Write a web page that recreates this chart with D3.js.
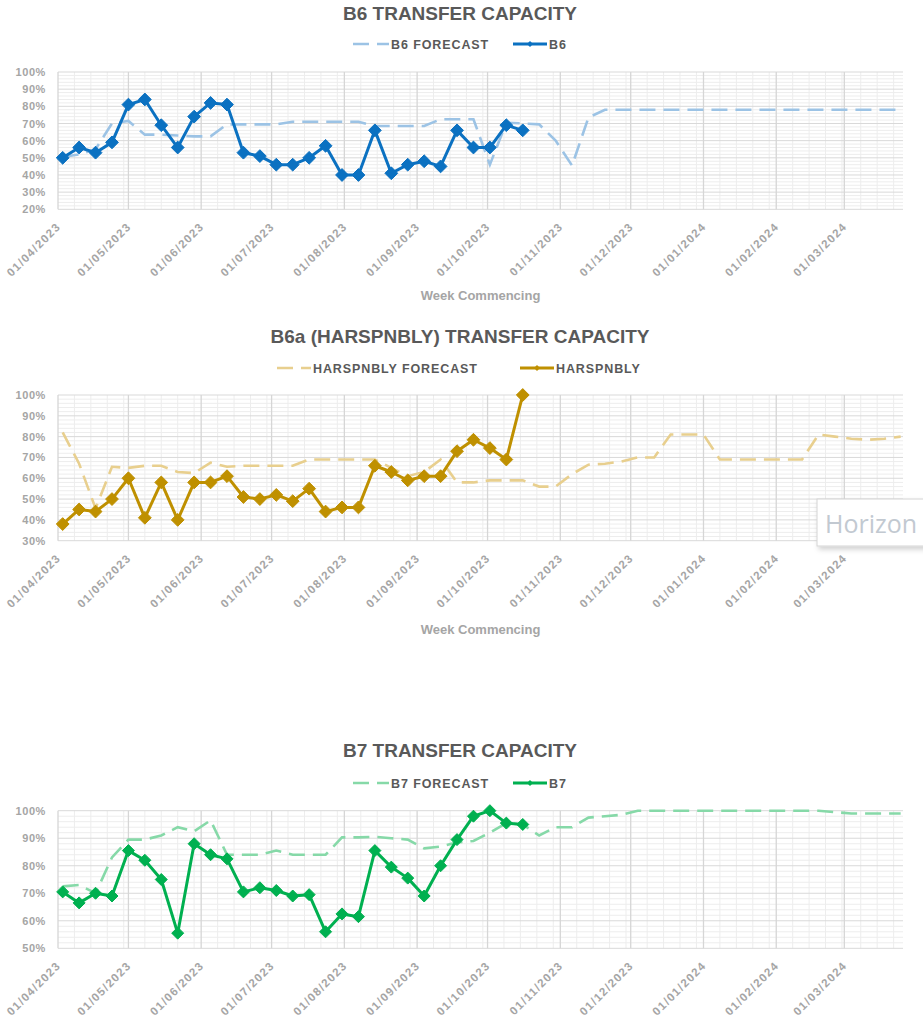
<!DOCTYPE html>
<html><head><meta charset="utf-8">
<script src="https://cdn.jsdelivr.net/npm/d3@7"></script>
<style>
body{margin:0;background:#fff;}
svg{display:block;font-family:"Liberation Sans",Arial,sans-serif;}
</style>
</head><body>
<svg id="c" width="923" height="1023"></svg>
<script>
// ---------- DATA ----------
const weekDates = ["2023-04-03","2023-04-10","2023-04-17","2023-04-24","2023-05-01","2023-05-08","2023-05-15","2023-05-22","2023-05-29",
"2023-06-05","2023-06-12","2023-06-19","2023-06-26","2023-07-03","2023-07-10","2023-07-17","2023-07-24","2023-07-31",
"2023-08-07","2023-08-14","2023-08-21","2023-08-28","2023-09-04","2023-09-11","2023-09-18","2023-09-25",
"2023-10-02","2023-10-09","2023-10-16","2023-10-23","2023-10-30","2023-11-06","2023-11-13","2023-11-20","2023-11-27",
"2023-12-04","2023-12-11","2023-12-18","2023-12-25","2024-01-01","2024-01-08","2024-01-15","2024-01-22","2024-01-29",
"2024-02-05","2024-02-12","2024-02-19","2024-02-26","2024-03-04","2024-03-11","2024-03-18","2024-03-25"];
const monthTicks = ["2023-04-01","2023-05-01","2023-06-01","2023-07-01","2023-08-01","2023-09-01","2023-10-01",
"2023-11-01","2023-12-01","2024-01-01","2024-02-01","2024-03-01"];
const axisStart = "2023-04-01";
const axisEnd = "2024-03-26";

const b6Actual = [50,56,53,59,81,84,69,56,74,82,81,53,51,46,46,50,57,40,40,66,41,46,48,45,66,56,56,69,66];
const b6Forecast = [50.5,52,55,70,71.5,63.5,63.5,63,62.5,62.5,
69.5,69.5,69.5,69.5,71,71,71,71,71,68.5,
68.5,68.5,68.5,72.5,72.5,72.5,46,70.5,70,69.5,
60,45.5,73.5,78,78,78,78,78,78,78,
78,78,78,78,78,78,78,78,78,78,78,78];
const b6Ticks = [20,30,40,50,60,70,80,90,100];

const harActual = [38,45,44,50,60,41,58,40,58,58,61,51,50,52,49,55,44,46,46,66,63,59,61,61,73,78.5,74.5,69,100];
const harForecast = [82,67,45.5,65.5,65,66,66,63,62.5,67.5,
65.5,66,66,66,66,69,69,69,69,69,
65,61,63,69,58,58,59,59,59,56,
56,62,66.5,67,68,70,70,81,81,81,
69,69,69,69,69,69,81,80,79,78.5,79,80];
const harTicks = [30,40,50,60,70,80,90,100];

const b7Actual = [70.5,66.5,70,69,85.5,82,75,55.5,88,84,82.5,70.5,72,71,69,69.5,56,62.5,61.5,85.5,79.5,75.5,69,80,89.5,98,100,95.5,95];
const b7Forecast = [72.5,73,70,83,89.5,89.5,91,94,92.5,96.5,
84,84,84,85.5,84,84,84,90.3,90.3,90.5,
90,89.5,86.3,87,88.5,89,92,95.5,95,91,
94,94,97.5,98,98.5,100,100,100,100,100,
100,100,100,100,100,100,100,99.5,99,99,99,99];
const b7Ticks = [50,60,70,80,90,100];

// ---------- SETUP ----------
const parse = d3.timeParse("%Y-%m-%d");
const fmt = d3.timeFormat("%d/%m/%Y");
const dates = weekDates.map(parse);
const months = monthTicks.map(parse);
const svg = d3.select("#c");
const X0 = 58, X1 = 903;
const x = d3.scaleTime().domain([parse(axisStart), parse(axisEnd)]).range([X0, X1]);

const defs = svg.append("defs");
const f = defs.append("filter").attr("id","sh").attr("x","-20%").attr("y","-20%").attr("width","150%").attr("height","160%");
f.append("feDropShadow").attr("dx",2).attr("dy",3).attr("stdDeviation",2.5).attr("flood-color","#000").attr("flood-opacity",0.18);

const charts = [
  {title:"B6 TRANSFER CAPACITY", fcName:"B6 FORECAST", acName:"B6", actual:b6Actual, forecast:b6Forecast,
   ticks:b6Ticks, top:72, bottom:209.3, ac:"#0B71C1", fc:"#9CC3E5", titleY:20, legendY:44,
   leg:{d0:353,d1:389,t1:391,s0:513,s1:547,t2:549}, axisTitleY:300, marker:6.4},
  {title:"B6a (HARSPNBLY) TRANSFER CAPACITY", fcName:"HARSPNBLY FORECAST", acName:"HARSPNBLY", actual:harActual, forecast:harForecast,
   ticks:harTicks, top:395, bottom:540.7, ac:"#BF9000", fc:"#E8CF8E", titleY:343, legendY:368,
   leg:{d0:277,d1:311,t1:313,s0:520,s1:554,t2:556}, axisTitleY:634, marker:6.4},
  {title:"B7 TRANSFER CAPACITY", fcName:"B7 FORECAST", acName:"B7", actual:b7Actual, forecast:b7Forecast,
   ticks:b7Ticks, top:810.7, bottom:948.3, ac:"#00B050", fc:"#86D9A8", titleY:757, legendY:783,
   leg:{d0:353,d1:389,t1:391,s0:513,s1:547,t2:549}, axisTitleY:null, marker:6}
];

const diamond = r => `M0,${-r}L${r},0L0,${r}L${-r},0Z`;

charts.forEach(c => {
  const y = d3.scaleLinear().domain([c.ticks[0], c.ticks[c.ticks.length-1]]).range([c.bottom, c.top]);
  const g = svg.append("g");

  const minorY = d3.range(c.ticks[0], c.ticks[c.ticks.length-1], 2).filter(v => v % 10 !== 0);
  g.selectAll(".mh").data(minorY).enter().append("line")
    .attr("x1", X0).attr("x2", X1).attr("y1", d => y(d)).attr("y2", d => y(d))
    .attr("stroke", "#EDEDED").attr("stroke-width", 1);
  const minorX = [];
  months.forEach((m, i) => {
    const next = i < months.length - 1 ? months[i+1] : parse(axisEnd);
    for (let k = 1; k <= 4; k++) {
      const d = d3.timeDay.offset(m, 7*k);
      if (d < next) minorX.push(d);
    }
  });
  g.selectAll(".mv").data(minorX).enter().append("line")
    .attr("x1", d => x(d)).attr("x2", d => x(d)).attr("y1", c.top).attr("y2", c.bottom)
    .attr("stroke", "#EDEDED").attr("stroke-width", 1);
  g.selectAll(".h").data(c.ticks).enter().append("line")
    .attr("x1", X0).attr("x2", X1).attr("y1", d => y(d)).attr("y2", d => y(d))
    .attr("stroke", "#D9D9D9").attr("stroke-width", 1);
  g.selectAll(".v").data(months).enter().append("line")
    .attr("x1", d => x(d)).attr("x2", d => x(d)).attr("y1", c.top).attr("y2", c.bottom)
    .attr("stroke", "#D6D6D6").attr("stroke-width", 1.3);

  const ya = d3.axisLeft(y).tickValues(c.ticks).tickFormat(d => d + "%").tickSize(0).tickPadding(0);
  const yg = svg.append("g").attr("transform", "translate(46,0)").call(ya);
  yg.select(".domain").remove();
  yg.selectAll("text").attr("fill", "#A5A5A5").attr("font-size", "11px").attr("font-weight", "bold")
    .attr("letter-spacing", "0.6px").attr("font-family", "'Liberation Sans',Arial,sans-serif");

  const xa = d3.axisBottom(x).tickValues(months).tickFormat(fmt).tickSize(0).tickPadding(0);
  const xg = svg.append("g").attr("transform", `translate(0,${c.bottom})`).call(xa);
  xg.select(".domain").remove();
  xg.selectAll("text").attr("fill", "#A5A5A5").attr("font-size", "11.5px").attr("font-weight", "bold")
    .attr("letter-spacing", "1.3px").attr("font-family", "'Liberation Sans',Arial,sans-serif")
    .attr("text-anchor", "end").attr("dy", null).attr("y", 0)
    .attr("transform", "translate(3,18) rotate(-45)");

  const ln = d3.line().x((d, i) => x(dates[i])).y(d => y(d));
  g.append("path").datum(c.forecast).attr("d", ln).attr("fill", "none")
    .attr("stroke", c.fc).attr("stroke-width", 2.6).attr("stroke-dasharray", "16,8");
  g.append("path").datum(c.actual).attr("d", ln).attr("fill", "none")
    .attr("stroke", c.ac).attr("stroke-width", 3).attr("stroke-linejoin", "round");
  g.selectAll(".mk").data(c.actual).enter().append("path")
    .attr("d", diamond(c.marker))
    .attr("transform", (d, i) => `translate(${x(dates[i])},${y(d)})`)
    .attr("fill", c.ac).attr("stroke", c.ac).attr("stroke-width", 1);

  svg.append("text").attr("x", 460).attr("y", c.titleY).attr("text-anchor", "middle")
    .attr("font-size", "19px").attr("font-weight", "bold").attr("fill", "#595959").text(c.title);

  const L = c.leg, ly = c.legendY;
  svg.append("line").attr("x1", L.d0).attr("x2", L.d1).attr("y1", ly).attr("y2", ly)
    .attr("stroke", c.fc).attr("stroke-width", 2.6).attr("stroke-dasharray", "16,8");
  svg.append("text").attr("x", L.t1).attr("y", ly + 4.5).attr("font-size", "12.5px").attr("font-weight", "bold")
    .attr("letter-spacing", "0.9px").attr("fill", "#595959").text(c.fcName);
  svg.append("line").attr("x1", L.s0).attr("x2", L.s1).attr("y1", ly).attr("y2", ly)
    .attr("stroke", c.ac).attr("stroke-width", 3);
  svg.append("path").attr("d", diamond(3)).attr("transform", `translate(${(L.s0+L.s1)/2},${ly})`).attr("fill", c.ac);
  svg.append("text").attr("x", L.t2).attr("y", ly + 4.5).attr("font-size", "12.5px").attr("font-weight", "bold")
    .attr("letter-spacing", "0.9px").attr("fill", "#595959").text(c.acName);

  if (c.axisTitleY) {
    svg.append("text").attr("x", (X0 + X1) / 2).attr("y", c.axisTitleY).attr("text-anchor", "middle")
      .attr("font-size", "13px").attr("font-weight", "bold").attr("fill", "#A5A5A5").text("Week Commencing");
  }
});

// overlay "Horizon" box at the right edge
svg.append("rect").attr("x", 817).attr("y", 499).attr("width", 130).attr("height", 47)
  .attr("fill", "#fff").attr("stroke", "#D4D4D4").attr("stroke-width", 1).attr("filter", "url(#sh)");
svg.append("text").attr("x", 825).attr("y", 533).attr("font-size", "25px")
  .attr("font-family", "'Open Sans','Liberation Sans',sans-serif").attr("fill", "#C2C9D1").text("Horizon");
</script>
</body></html>
